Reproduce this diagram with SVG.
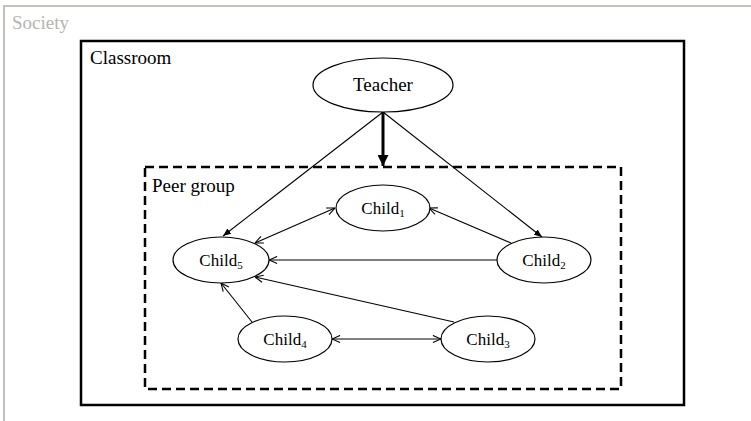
<svg xmlns="http://www.w3.org/2000/svg" width="751" height="421" viewBox="0 0 751 421">
<style>
text{font-family:"Liberation Serif","Times New Roman",serif}
.node ellipse{fill:#fff;stroke:#000;stroke-width:1.2}
.node text{font-size:17px;text-anchor:middle;fill:#000}
.lbl{font-size:19px;fill:#000}
.c{stroke:#000;stroke-width:1.1;fill:none}
</style>
<defs>
<marker id="open" viewBox="0 0 10 10" refX="10" refY="5" markerWidth="9" markerHeight="9" markerUnits="userSpaceOnUse" orient="auto-start-reverse">
<path d="M1,1 L10,5 L1,9" fill="none" stroke="#000" stroke-width="1.2"/>
</marker>
<marker id="fill" viewBox="0 0 10 10" refX="10" refY="5" markerWidth="8" markerHeight="8" markerUnits="userSpaceOnUse" orient="auto">
<path d="M0,1 L10,5 L0,9 Z" fill="#000"/>
</marker>
<marker id="big" viewBox="0 0 10 10" refX="10" refY="5" markerWidth="12" markerHeight="11" markerUnits="userSpaceOnUse" orient="auto">
<path d="M0,0 L10,5 L0,10 Z" fill="#000"/>
</marker>
</defs>
<rect width="751" height="421" fill="#fff"/>
<g id="society">
<path d="M4,425 L4,6 L755,6" fill="none" stroke="#c4c0bc" stroke-width="2"/>
<text x="12" y="29" style="font-size:19px;fill:#b8b4b0">Society</text>
</g>
<g id="classroom">
<rect x="81" y="41" width="603" height="364" fill="none" stroke="#000" stroke-width="2.5"/>
<text x="90" y="64" class="lbl">Classroom</text>
</g>
<g id="peergroup">
<rect x="145" y="167" width="476" height="222" fill="none" stroke="#000" stroke-width="2.5" stroke-dasharray="9,5"/>
<text x="152" y="192" class="lbl">Peer group</text>
</g>
<g id="connectors">
<line x1="383" y1="112" x2="383" y2="166" stroke="#000" stroke-width="3" marker-end="url(#big)"/>
<line class="c" x1="383" y1="112" x2="223" y2="236" marker-end="url(#fill)"/>
<line class="c" x1="383" y1="112" x2="542" y2="237" marker-end="url(#fill)"/>
<line class="c" x1="255" y1="243" x2="335" y2="208" marker-start="url(#open)" marker-end="url(#open)"/>
<line class="c" x1="511" y1="243" x2="429" y2="208" marker-end="url(#open)"/>
<line class="c" x1="497" y1="260" x2="269" y2="260" marker-end="url(#open)"/>
<line class="c" x1="454" y1="322" x2="255" y2="277" marker-end="url(#open)"/>
<line class="c" x1="252" y1="322" x2="221" y2="283" marker-end="url(#open)"/>
<line class="c" x1="332" y1="339" x2="441" y2="339" marker-start="url(#open)" marker-end="url(#open)"/>
</g>
<g id="teacher" class="node">
<ellipse cx="383" cy="85" rx="70" ry="27"/>
<text x="383" y="91" style="font-size:19px">Teacher</text>
</g>
<g id="child1" class="node">
<ellipse cx="383" cy="208" rx="47" ry="23"/>
<text x="383" y="214">Child<tspan style="font-size:11px" dy="3">1</tspan></text>
</g>
<g id="child2" class="node">
<ellipse cx="544" cy="260" rx="47" ry="23"/>
<text x="544" y="266">Child<tspan style="font-size:11px" dy="3">2</tspan></text>
</g>
<g id="child3" class="node">
<ellipse cx="488" cy="339" rx="47" ry="23"/>
<text x="488" y="345">Child<tspan style="font-size:11px" dy="3">3</tspan></text>
</g>
<g id="child4" class="node">
<ellipse cx="285" cy="339" rx="47" ry="23"/>
<text x="285" y="345">Child<tspan style="font-size:11px" dy="3">4</tspan></text>
</g>
<g id="child5" class="node">
<ellipse cx="221" cy="260" rx="48" ry="23"/>
<text x="221" y="266">Child<tspan style="font-size:11px" dy="3">5</tspan></text>
</g>
</svg>
